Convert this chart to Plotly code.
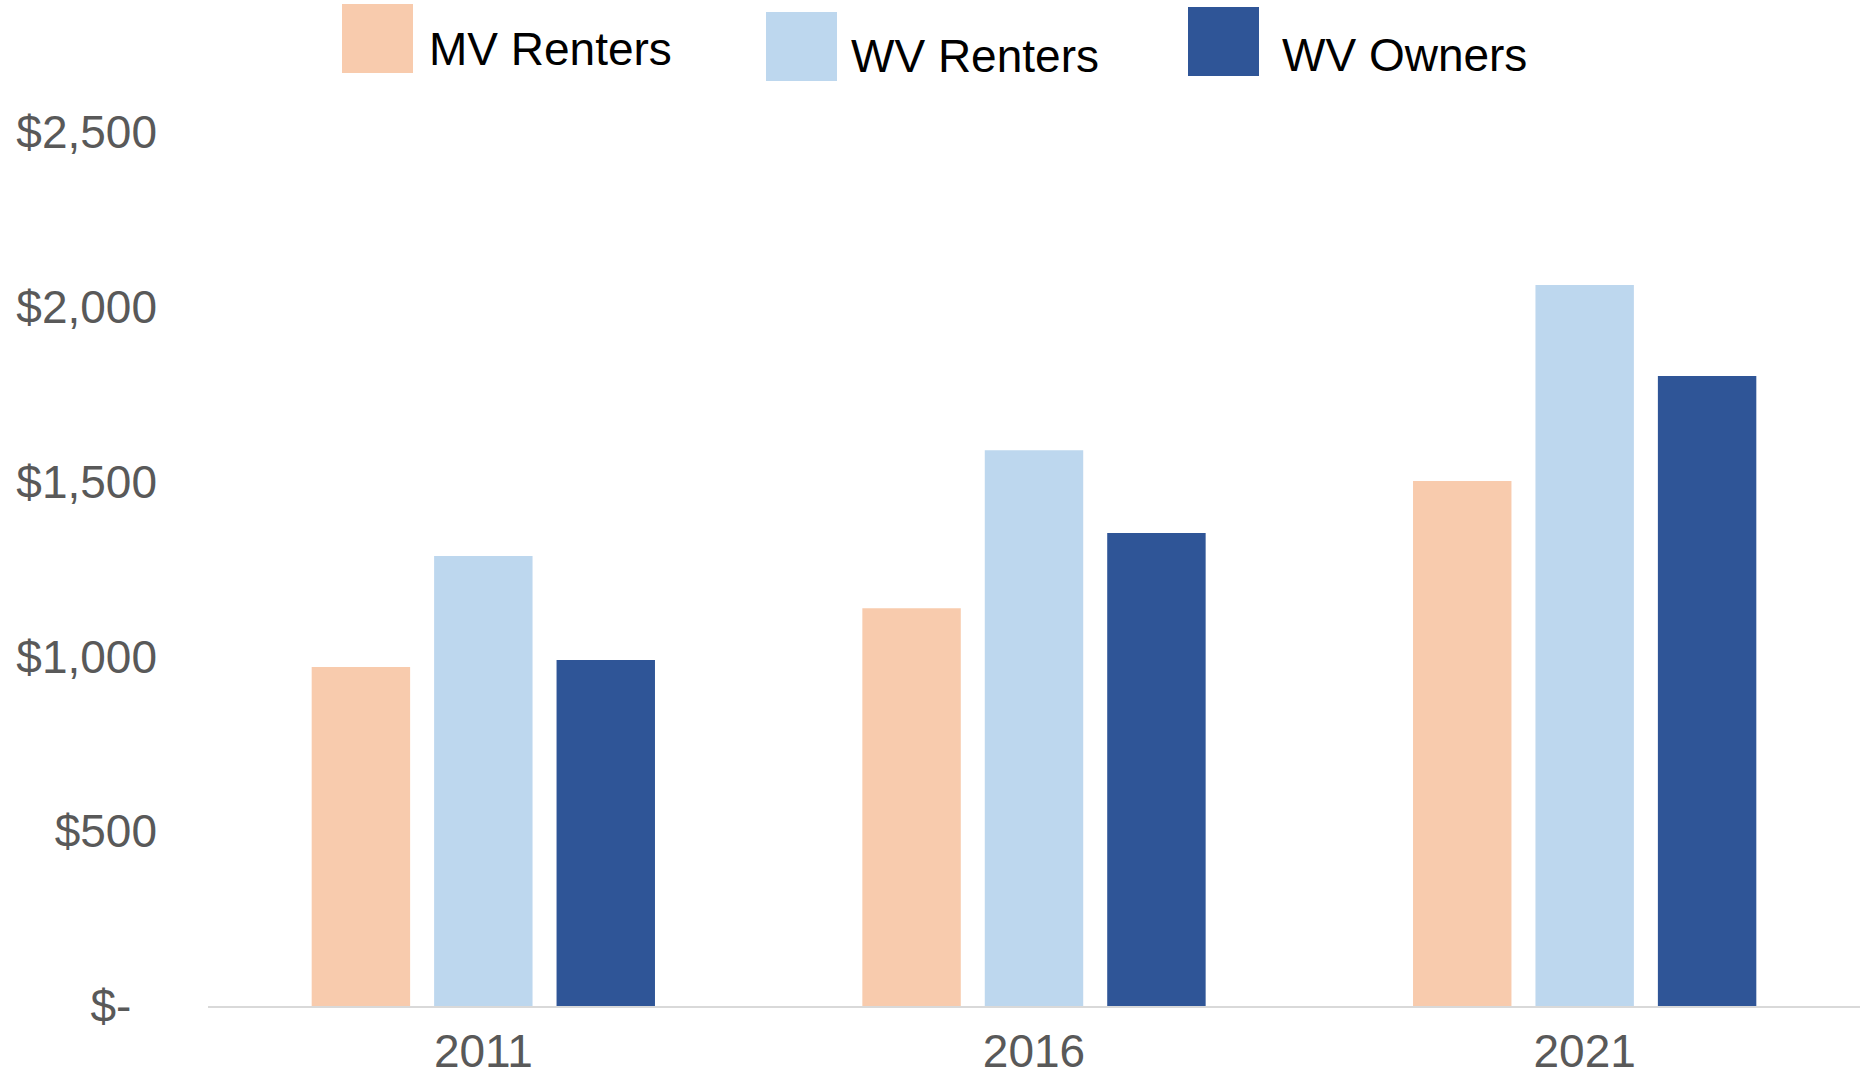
import plotly.graph_objects as go

years = ["2011", "2016", "2021"]
series_names = ["MV Renters", "WV Renters", "WV Owners"]
mv_renters = [970, 1138, 1502]
wv_renters = [1287, 1590, 2062]
wv_owners = [990, 1353, 1802]
colors = ["#F8CBAD", "#BDD7EE", "#2F5597"]
y_tick_vals = [0, 500, 1000, 1500, 2000, 2500]
y_tick_text = ["$-\u00a0\u00a0", "$500", "$1,000", "$1,500", "$2,000", "$2,500"]

W, H = 1860, 1081
ML, MT, MB = 208, 132, 75
FONT = "Liberation Sans, Arial, sans-serif"

fig = go.Figure()
for name, vals, col in zip(series_names, [mv_renters, wv_renters, wv_owners], colors):
    fig.add_trace(go.Bar(x=years, y=vals, name=name, marker=dict(color=col, line=dict(width=0)),
                         showlegend=False))

# custom legend (large swatches, staggered like the reference)
legend_pos = [  # swatch x0, y0 (px), text x, text center y
    (342, 4, 427, 49),
    (766, 12, 849, 56),
    (1188, 7, 1280, 55),
]
PW = W - ML
PH = H - MB - MT
shapes = []
annotations = []
for (sx, sy, tx, ty), name, col in zip(legend_pos, series_names, colors):
    shapes.append(dict(type="rect", xref="paper", yref="paper",
                       x0=(sx - ML) / PW, x1=(sx + 71 - ML) / PW,
                       y0=(H - MB - sy) / PH, y1=(H - MB - sy - 69) / PH,
                       fillcolor=col, line=dict(width=0)))
    annotations.append(dict(text=name, xref="paper", yref="paper",
                            x=(tx - ML) / PW, y=(H - MB - ty) / PH,
                            xanchor="left", yanchor="middle", showarrow=False,
                            font=dict(family=FONT, size=46, color="#000000")))

fig.update_layout(
    width=W, height=H,
    margin=dict(l=ML, r=0, t=MT, b=MB, autoexpand=False),
    paper_bgcolor="white", plot_bgcolor="white",
    barmode="group", bargap=0.333, bargroupgap=0.196,
    shapes=shapes, annotations=annotations,
    font=dict(family=FONT, size=46, color="#595959"),
)
fig.update_xaxes(showline=True, linecolor="#D9D9D9", linewidth=2, showgrid=False,
                 ticks="", ticklabelstandoff=4, automargin=False,
                 tickfont=dict(family=FONT, size=46, color="#595959"))
fig.update_yaxes(range=[0, 2500], showgrid=False, zeroline=False, showline=False,
                 tickvals=y_tick_vals, ticktext=y_tick_text, ticks="",
                 ticklabelstandoff=50, automargin=False,
                 tickfont=dict(family=FONT, size=46, color="#595959"))

fig.write_html("out.html", config={"displayModeBar": False},
               post_script="document.body.style.margin='0';document.body.style.overflow='hidden';")
